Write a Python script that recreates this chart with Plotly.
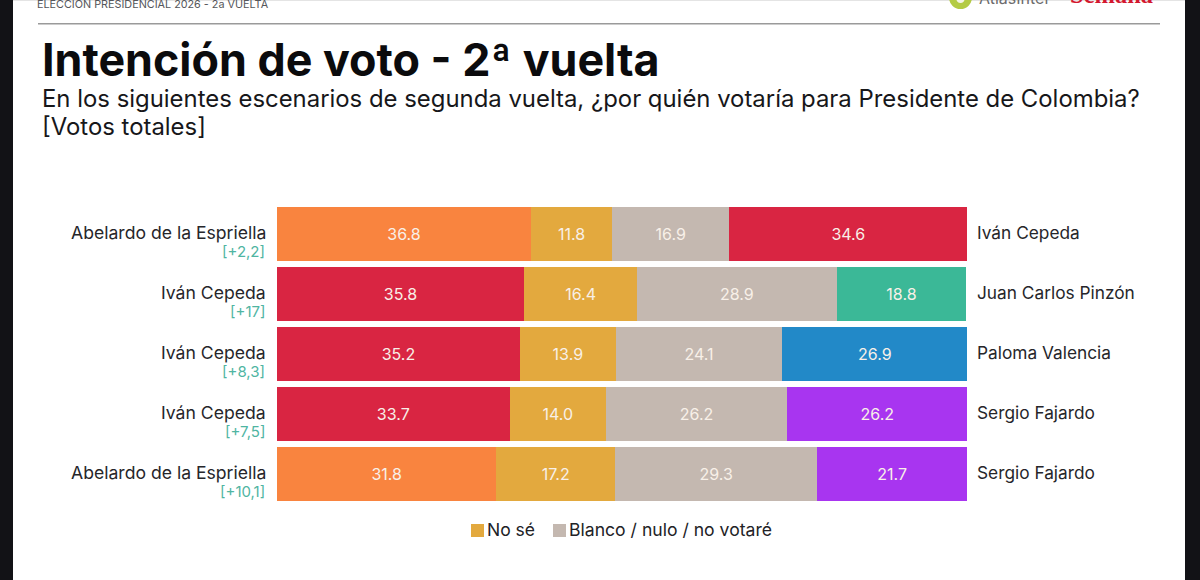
import plotly.graph_objects as go

# Second-round scenarios, top row first
rows = ["e1", "e2", "e3", "e4", "e5"]
left_names = ["Abelardo de la Espriella", "Iván Cepeda", "Iván Cepeda", "Iván Cepeda", "Abelardo de la Espriella"]
margins = ["[+2,2]", "[+17]", "[+8,3]", "[+7,5]", "[+10,1]"]
right_names = ["Iván Cepeda", "Juan Carlos Pinzón", "Paloma Valencia", "Sergio Fajardo", "Sergio Fajardo"]

left_values = [36.8, 35.8, 35.2, 33.7, 31.8]
no_se = [11.8, 16.4, 13.9, 14.0, 17.2]
blanco = [16.9, 28.9, 24.1, 26.2, 29.3]
right_values = [34.6, 18.8, 26.9, 26.2, 21.7]

ORANGE, RED, GREEN, BLUE, PURPLE = "#F9843F", "#D92542", "#3BB897", "#2289C8", "#A835F0"
GOLD, GREY = "#E3A93E", "#C4B8B0"
left_colors = [ORANGE, RED, RED, RED, ORANGE]
right_colors = [RED, GREEN, BLUE, PURPLE, PURPLE]

FONT = "Inter"
W, H = 1200, 580
L, R, T, B = 277, 233, 204, 76
plot_w, plot_h = W - L - R, H - T - B


def px(x):
    return (x - L) / plot_w


def py(y):
    return 1 - (y - T) / plot_h


fig = go.Figure()
series = [
    ("Candidato izquierda", left_values, left_colors),
    ("No sé", no_se, GOLD),
    ("Blanco / nulo / no votaré", blanco, GREY),
    ("Candidato derecha", right_values, right_colors),
]
for name, values, color in series:
    fig.add_bar(
        name=name, y=rows, x=values, orientation="h", showlegend=False,
        marker=dict(color=color, line=dict(width=0)),
        text=[f"{v:.1f}" for v in values], textposition="inside",
        insidetextanchor="middle", textangle=0,
        insidetextfont=dict(color="#F8F0E8", size=16, family=FONT),
        hoverinfo="x+y",
    )

annotations = []


def label(x, y, text, size, color, anchor="left", weight=None, family=FONT):
    annotations.append(dict(
        xref="paper", yref="paper", x=px(x), y=py(y), text=text, showarrow=False,
        xanchor=anchor, yanchor="middle", align=anchor,
        font=dict(size=size, color=color, family=family, weight=weight),
    ))


# Candidate names on both sides of every bar, with the lead below the left name
for i, row in enumerate(rows):
    centre = 232 + 60 * i
    label(268, centre, left_names[i], 17.6, "#26262A", "right")
    label(267, centre + 19, margins[i], 15, "#4FB5A2", "right")
    label(975, centre, right_names[i], 17.3, "#26262A")

# Header, title and question
label(35, 4, "ELECCIÓN PRESIDENCIAL 2026 - 2a VUELTA", 10.8, "#55565A")
label(40, 60, "Intención de voto - 2ª vuelta", 44.8, "#0B0B0D", weight=700)
label(40, 99, "En los siguientes escenarios de segunda vuelta, ¿por quién votaría para Presidente de Colombia?", 23.9, "#17171A")
label(40, 126, "[Votos totales]", 23.9, "#17171A")
label(977, -2, "AtlasIntel", 16, "#6B6B6B")
label(1068, -5, "Semana", 24.5, "#D3182F", weight=700, family="Liberation Serif")

# Legend row
label(485, 529, "No sé", 17.5, "#222226")
label(567, 529, "Blanco / nulo / no votaré", 17.6, "#222226")


def rect(x0, y0, x1, y1, color, layer="above"):
    return dict(type="rect", xref="paper", yref="paper", x0=px(x0), x1=px(x1), y0=py(y0), y1=py(y1),
                fillcolor=color, line=dict(width=0), layer=layer)


def disc(x0, y0, x1, y1, color):
    return dict(type="circle", xref="paper", yref="paper", x0=px(x0), x1=px(x1), y0=py(y0), y1=py(y1),
                fillcolor=color, line=dict(width=0))


shapes = [
    rect(0, 0, 13, H, "#121216"),
    rect(1185, 0, W, H, "#121216"),
    rect(13, 0, 1185, 1, "#E4E4E4"),
    rect(38, 23, 1160, 24.5, "#9A9A9A"),
    rect(471, 524, 484, 537, GOLD),
    rect(553, 524, 566, 537, GREY),
    # Logo disc with its pale centre
    disc(949, -14, 972, 9, "#B4CB44"),
    disc(956, -8, 965, 3, "#F4F4E4"),
]

fig.update_layout(
    width=W, height=H, barmode="stack", bargap=0.1,
    margin=dict(l=L, r=R, t=T, b=B, autoexpand=False),
    paper_bgcolor="white", plot_bgcolor="white", showlegend=False,
    xaxis=dict(range=[0, 100], visible=False, fixedrange=True),
    yaxis=dict(autorange="reversed", visible=False, fixedrange=True),
    annotations=annotations, shapes=shapes,
    font=dict(family=FONT),
)
fig.write_html("out.html", config={"displayModeBar": False})
